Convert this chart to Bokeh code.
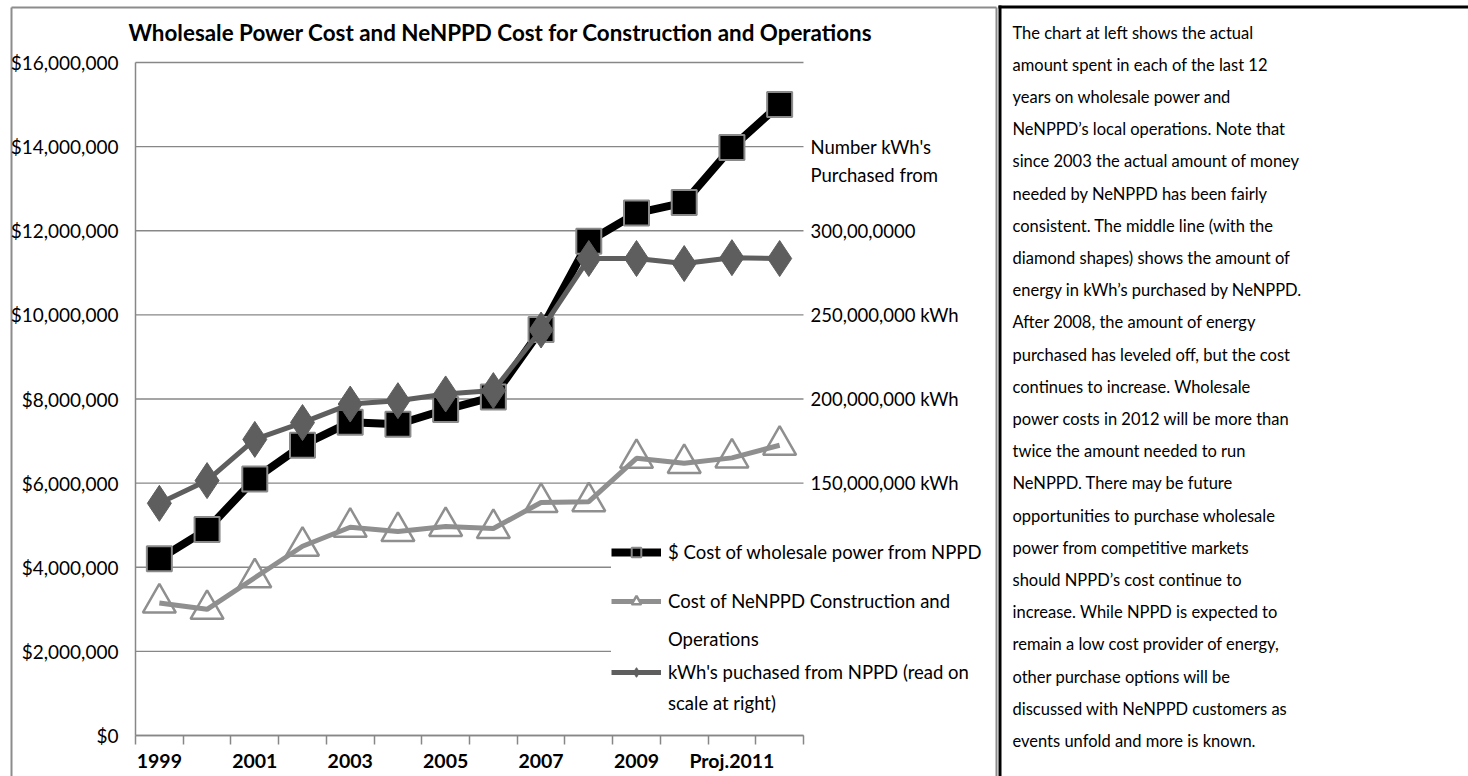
from bokeh.plotting import figure
from bokeh.models import (Range1d, LinearAxis, FixedTicker, NumeralTickFormatter, Legend,
                          LegendItem, Label, ColumnDataSource)
from bokeh.core.properties import value
from bokeh.embed import file_html
from bokeh.resources import INLINE

# ---------------- data ----------------
years = ["1999", "2000", "2001", "2002", "2003", "2004", "2005", "2006", "2007",
         "2008", "2009", "2010", "Proj.2011", "Proj.2012"]
wholesale_cost = [4.2e6, 4.9e6, 6.1e6, 6.9e6, 7.45e6, 7.4e6, 7.75e6, 8.05e6, 9.65e6,
                  11.75e6, 12.42e6, 12.67e6, 13.98e6, 15.0e6]
nenppd_cost = [3.15e6, 3.0e6, 3.75e6, 4.5e6, 4.95e6, 4.85e6, 4.97e6, 4.92e6, 5.54e6,
               5.56e6, 6.59e6, 6.47e6, 6.6e6, 6.9e6]
kwh_purchased = [138e6, 151.5e6, 176e6, 186e6, 197e6, 199e6, 203e6, 205e6, 241e6,
                 283.5e6, 283.5e6, 280.5e6, 284e6, 283.5e6]

dollar_max = 16e6
dollar_ticks = [0, 2e6, 4e6, 6e6, 8e6, 10e6, 12e6, 14e6, 16e6]
kwh_per_dollar = 25  # 400,000,000 kWh at the top of the $16,000,000 scale
kwh_ticks = [150e6, 200e6, 250e6, 300e6, 350e6]
kwh_tick_labels = ["150,000,000 kWh", "200,000,000 kWh", "250,000,000 kWh",
                   "300,00,0000", "Number kWh's"]
kwh_axis_extra = "Purchased from"

title_text = "Wholesale Power Cost and NeNPPD Cost for Construction and Operations"
legend_labels = ["$ Cost of wholesale power from NPPD",
                 "Cost of NeNPPD Construction and", "Operations",
                 "kWh's puchased from NPPD (read on", "scale at right)"]

note_lines = [
    "The chart at left shows the actual",
    "amount spent in each of the last 12",
    "years on wholesale power and",
    "NeNPPD\u2019s local operations.  Note that",
    "since 2003 the actual amount of money",
    "needed by NeNPPD has been fairly",
    "consistent.  The middle line (with the",
    "diamond shapes) shows the amount of",
    "energy in kWh\u2019s purchased by NeNPPD.",
    "After 2008, the amount of energy",
    "purchased has leveled off, but the cost",
    "continues to increase.  Wholesale",
    "power costs in 2012 will be more than",
    "twice the amount needed to run",
    "NeNPPD.  There may be future",
    "opportunities to purchase wholesale",
    "power from competitive markets",
    "should NPPD\u2019s cost continue to",
    "increase.  While NPPD is expected to",
    "remain a low cost provider of energy,",
    "other purchase options will be",
    "discussed with NeNPPD customers as",
    "events unfold and more is known.",
]

# ---------------- layout / styles ----------------
FONT = "Lato"
GRID = "#878787"
TRI = "#8f8f8f"
DIA = "#5e5e5e"
BOX = "#8c8c8c"

# picture pixels
CAN_L, CAN_R, CAN_T, CAN_B = 0, 1468, 0, 776
PL, PR, PT, PB = 135, 803, 62, 735

n = len(years)
cat_px = (PR - PL) / n
usd_px = (PB - PT) / dollar_max
x_range = Range1d((CAN_L - PL) / cat_px, (CAN_R - PL) / cat_px)
y_range = Range1d((PB - CAN_B) / usd_px, (PB - CAN_T) / usd_px)

x_centers = [i + 0.5 for i in range(n)]
src = ColumnDataSource(dict(x=x_centers, wholesale=wholesale_cost,
                            nenppd=nenppd_cost, kwh=kwh_purchased))

p = figure(width=CAN_R - CAN_L, height=CAN_B - CAN_T, output_backend="svg",
           toolbar_location=None, x_range=x_range, y_range=y_range,
           x_axis_type=None, y_axis_type=None, min_border=0,
           outline_line_color=None)
p.title.visible = False
p.extra_y_ranges = {"kwh": Range1d(y_range.start * kwh_per_dollar, y_range.end * kwh_per_dollar),
                    "pg": Range1d(CAN_B, CAN_T)}
p.extra_x_ranges = {"pg": Range1d(CAN_L, CAN_R)}

# frames of the chart box and of the text box (picture pixels)
p.segment(x0=[11, 11, 996], y0=[7, 7, 7], x1=[11, 996, 996], y1=[CAN_B, 7, CAN_B],
          x_range_name="pg", y_range_name="pg", line_color=BOX, line_width=2)
p.segment(x0=[999.5, 998], y0=[5, 6.5], x1=[999.5, CAN_R], y1=[CAN_B, 6.5],
          x_range_name="pg", y_range_name="pg", line_color="black", line_width=3)

# title
p.add_layout(Label(x=128, y=32, x_range_name="pg", y_range_name="pg", text=title_text,
                   text_font=FONT, text_font_size="22.4px", text_font_style="bold",
                   text_baseline="middle", text_align="left", text_color="black"))

# horizontal gridlines from the $ ticks
p.segment(x0=[0] * len(dollar_ticks), x1=[n] * len(dollar_ticks), y0=dollar_ticks,
          y1=dollar_ticks, line_color=GRID, line_width=1.3, level="underlay")

# left axis
yax = LinearAxis(ticker=FixedTicker(ticks=dollar_ticks), fixed_location=0,
                 bounds=(0, dollar_max),
                 formatter=NumeralTickFormatter(format="$0,0"),
                 axis_line_color=GRID, axis_line_width=1.5,
                 major_tick_out=0, major_tick_in=0, minor_tick_out=0, minor_tick_in=0,
                 major_label_standoff=17,
                 major_label_text_font=FONT, major_label_text_font_size="19px",
                 major_label_text_color="black")
p.add_layout(yax, "left")

# bottom axis: ticks between categories, labels on every other category
label_ticks = [x_centers[i] for i in range(0, n, 2)]
xax = LinearAxis(ticker=FixedTicker(ticks=label_ticks, minor_ticks=list(range(n + 1))),
                 fixed_location=0, bounds=(0, n),
                 major_label_overrides={x_centers[i]: years[i] for i in range(0, n, 2)},
                 axis_line_color=GRID, axis_line_width=1.5,
                 major_tick_out=0, major_tick_in=0,
                 minor_tick_out=9, minor_tick_in=0,
                 minor_tick_line_color=GRID, minor_tick_line_width=1.5,
                 major_label_standoff=4,
                 major_label_text_font=FONT, major_label_text_font_size="19.5px",
                 major_label_text_font_style="bold", major_label_text_color="black")
p.add_layout(xax, "below")

# right axis (kWh)
rax = LinearAxis(y_range_name="kwh", ticker=FixedTicker(ticks=kwh_ticks), fixed_location=n,
                 major_label_overrides=dict(zip(kwh_ticks, kwh_tick_labels)),
                 axis_line_color=None, major_tick_out=0, major_tick_in=0,
                 minor_tick_out=0, minor_tick_in=0, major_label_standoff=7,
                 major_label_text_font=FONT, major_label_text_font_size="18.5px",
                 major_label_text_color="black")
p.add_layout(rax, "right")
p.add_layout(Label(x=n, y=kwh_ticks[-1], y_range_name="kwh", x_offset=7, y_offset=-28,
                   text=kwh_axis_extra, text_font=FONT, text_font_size="18.5px",
                   text_align="left", text_baseline="middle", text_color="black"))

# series
tri_m = p.scatter("x", "nenppd", source=src, marker="triangle", size=33,
                  fill_color="white", line_color=TRI, line_width=2.5)
tri_l = p.line("x", "nenppd", source=src, line_color=TRI, line_width=5)
blk_l = p.line("x", "wholesale", source=src, line_color="black", line_width=8)
blk_m = p.scatter("x", "wholesale", source=src, marker="square", size=25,
                  fill_color="black", line_color="#8a8a8a", line_width=2)
dia_l = p.line("x", "kwh", source=src, y_range_name="kwh", line_color=DIA, line_width=5)
dia_m = p.scatter("x", "kwh", source=src, y_range_name="kwh", marker="diamond", size=36,
                  fill_color=DIA, line_color=DIA)
dummy = p.line(x=[], y=[], line_alpha=0)


def add_legend(items, loc, lh):
    lg = Legend(items=items, location=loc, label_height=lh, glyph_height=24, glyph_width=50,
                label_standoff=7, padding=2, spacing=0, margin=0,
                background_fill_color="white", background_fill_alpha=1.0,
                border_line_color=None, label_text_font=FONT,
                label_text_font_size="18.5px", label_text_color="black")
    p.add_layout(lg)


# legend positions: (left, bottom) in pixels from the canvas' bottom-left corner
add_legend([LegendItem(label=legend_labels[3], renderers=[dia_l, dia_m]),
            LegendItem(label=legend_labels[4], renderers=[dummy])], (611, 58), 31)
add_legend([LegendItem(label=legend_labels[1], renderers=[tri_l, tri_m]),
            LegendItem(label=legend_labels[2], renderers=[dummy])], (611, 118), 38)
add_legend([LegendItem(label=legend_labels[0], renderers=[blk_l, blk_m])], (611, 207), 34)

# ---------------- text box ----------------
p.text(x=[1012] * len(note_lines), y=[32 + i * 32.2 for i in range(len(note_lines))],
       x_range_name="pg", y_range_name="pg",
       text=note_lines, text_font=value("Lato"), text_font_size="16.5px",
       text_baseline="middle", text_align="left", text_color="black")

open("out.html", "w").write(file_html(p, INLINE))
